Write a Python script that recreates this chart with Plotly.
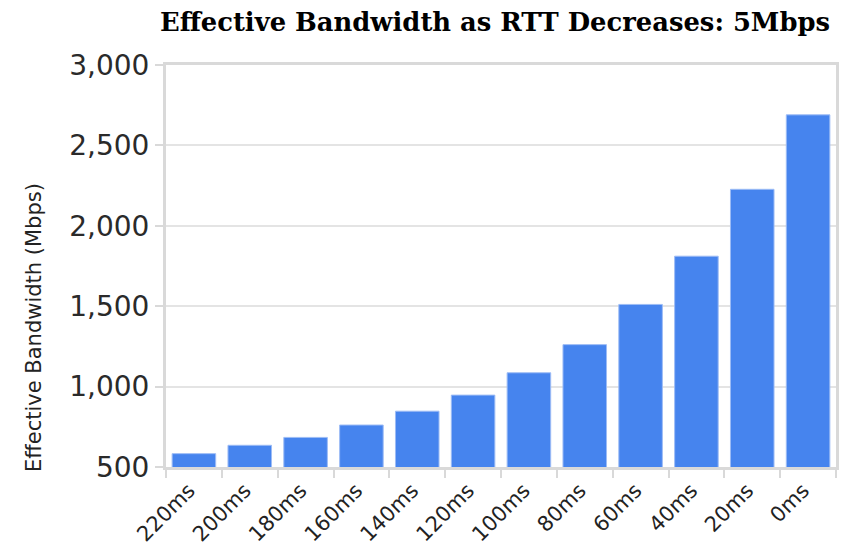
import plotly.graph_objects as go

# RTT steps and the measured effective bandwidth at each step
rtt_labels = ["220ms", "200ms", "180ms", "160ms", "140ms", "120ms",
              "100ms", "80ms", "60ms", "40ms", "20ms", "0ms"]
bandwidth_mbps = [583, 635, 684, 761, 847, 947,
                  1086, 1261, 1511, 1811, 2227, 2690]
y_ticks = [500, 1000, 1500, 2000, 2500, 3000]
y_tick_text = ["500", "1,000", "1,500", "2,000", "2,500", "3,000"]

W, H = 841, 549
L, R, T, B = 166, 5, 65, 82

fig = go.Figure(
    go.Bar(
        x=rtt_labels,
        y=bandwidth_mbps,
        marker=dict(color="#4684ee", line=dict(color="#9dbcf5", width=1)),
        hoverinfo="x+y",
    )
)

frame = "#d9d9d9"
fig.update_layout(
    width=W,
    height=H,
    margin=dict(l=L, r=R, t=T, b=B),
    paper_bgcolor="white",
    plot_bgcolor="white",
    bargap=0.22,
    showlegend=False,
    font=dict(family="DejaVu Sans", color="#222222"),
)

fig.update_xaxes(
    type="category",
    automargin=False,
    tickangle=-45,
    tickson="boundaries",
    ticks="outside",
    ticklen=8,
    tickcolor=frame,
    tickwidth=2,
    tickfont=dict(size=21, color="#222222"),
    ticklabelshift=-5,
    showline=True,
    linecolor=frame,
    linewidth=3,
    mirror=True,
    showgrid=False,
)

fig.update_yaxes(
    automargin=False,
    range=[500, 3000],
    tickvals=y_ticks,
    ticktext=y_tick_text,
    ticks="outside",
    ticklen=8,
    tickcolor=frame,
    tickwidth=2,
    tickfont=dict(size=28, color="#2a2a2a"),
    showline=True,
    linecolor=frame,
    linewidth=3,
    mirror=True,
    showgrid=True,
    gridcolor="#e4e4e4",
    gridwidth=2,
    zeroline=False,
)

# vertical axis caption
fig.add_annotation(
    text="Effective Bandwidth (Mbps)",
    xref="paper", yref="paper",
    x=(34 - L) / (W - L - R), y=(H - B - 328) / (H - T - B),
    textangle=-90, showarrow=False,
    font=dict(family="DejaVu Sans", size=21, color="#222222"),
    xanchor="center", yanchor="middle",
)

# chart heading
fig.add_annotation(
    text="<b>Effective Bandwidth as RTT Decreases: 5Mbps</b>",
    xref="paper", yref="paper",
    x=(495 - L) / (W - L - R), y=1 + (T - 22) / (H - T - B),
    showarrow=False,
    font=dict(family="DejaVu Serif", size=25.8, color="#000000"),
    xanchor="center", yanchor="middle",
)

fig.write_html("out.html")
